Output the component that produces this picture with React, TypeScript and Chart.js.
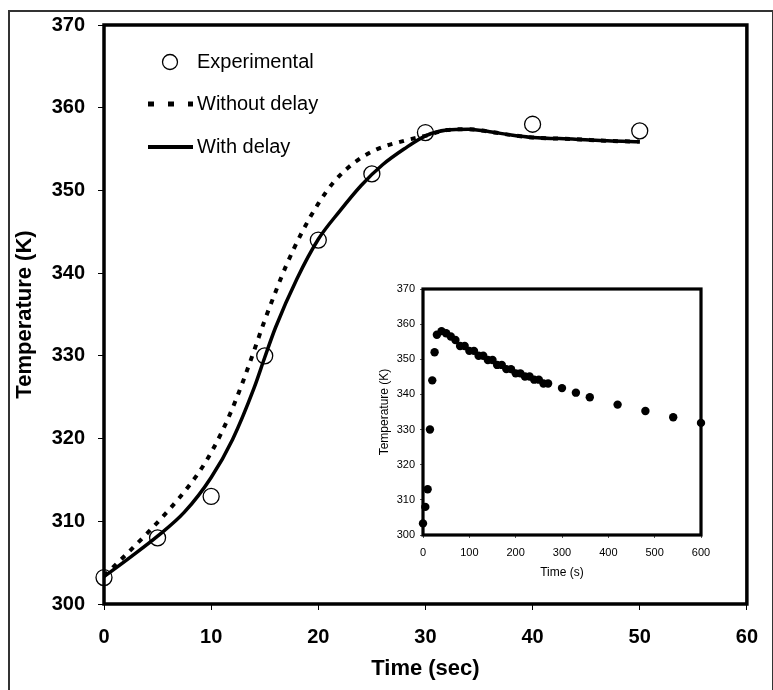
import React, { useEffect, useRef } from "react";
import { Chart, registerables } from "chart.js";

Chart.register(...registerables);

const FONT = '"Liberation Sans", Arial, Helvetica, sans-serif';

// ---- Main chart data ----
const expTime = [0, 5, 10, 15, 20, 25, 30, 40, 50];
const expTemp = [303.2, 308, 313, 330, 344, 352, 357, 358, 357.2];

const noDelayTime = [0, 2, 4, 6, 8, 9.5, 11, 12, 13, 14, 15, 16, 17, 18.5, 20, 21.5, 23.5, 25.5, 28, 30, 32, 34, 36, 38, 40, 44, 47, 50];
const noDelayTemp = [303.4, 305.9, 308.5, 311.3, 314.4, 317.2, 320.8, 323.7, 327.0, 330.6, 334.3, 337.7, 340.9, 345.0, 348.4, 351.1, 353.5, 355.0, 356.0, 356.6, 357.3, 357.4, 357.1, 356.7, 356.4, 356.2, 356.0, 355.9];

const delayTime = [0, 2.5, 5, 7.5, 10, 12, 14, 15, 16, 18, 20, 22, 24, 26, 28, 30, 32, 34, 36, 38, 40, 44, 47, 50];
const delayTemp = [303.3, 305.7, 308.2, 311.1, 315.3, 319.9, 326.1, 329.8, 333.4, 339.3, 344.1, 347.5, 350.6, 353.1, 355.0, 356.6, 357.3, 357.4, 357.1, 356.7, 356.4, 356.2, 356.0, 355.9];

const mainXTicks = [0, 60, 10]; // min, max, step
const mainYTicks = [300, 370, 10];

// ---- Inset data ----
const insetTime = [0, 5, 10, 15, 20, 25, 30, 40, 50, 60, 70, 80, 90, 100, 110, 120, 130, 140, 150, 160, 170, 180, 190, 200, 210, 220, 230, 240, 250, 260, 270, 300, 330, 360, 420, 480, 540, 600];
const insetTemp = [303.3, 308, 313, 330, 344, 352, 357, 358, 357.4, 356.5, 355.5, 353.8, 353.8, 352.4, 352.4, 351, 351, 349.8, 349.8, 348.4, 348.4, 347.2, 347.2, 346, 346, 345.1, 345.1, 344.2, 344.2, 343.1, 343.1, 341.8, 340.5, 339.2, 337.1, 335.3, 333.5, 331.9];

const insetXTicks = [0, 600, 100];
const insetYTicks = [300, 370, 10];

const legendLabels = ["Experimental", "Without delay", "With delay"];

const zip = (xs: number[], ys: number[]) => xs.map((x, i) => ({ x, y: ys[i] }));

const framePlugin = (lw: number) => ({
  id: "frame",
  beforeDatasetsDraw(chart: any) {
    const { ctx, chartArea: a } = chart;
    ctx.save();
    ctx.strokeStyle = "#000";
    ctx.lineWidth = lw;
    ctx.strokeRect(a.left, a.top, a.right - a.left, a.bottom - a.top);
    ctx.restore();
  },
});

const legendPlugin = {
  id: "customLegend",
  afterDraw(chart: any) {
    const ctx = chart.ctx;
    const sx = 148, ex = 193, tx = 197;
    const rows = [62, 104, 147];
    ctx.save();
    ctx.fillStyle = "#000";
    ctx.strokeStyle = "#000";
    ctx.beginPath();
    ctx.lineWidth = 1.3;
    ctx.arc(170, rows[0], 7.5, 0, Math.PI * 2);
    ctx.stroke();
    ctx.beginPath();
    ctx.lineWidth = 5;
    ctx.setLineDash([6, 14]);
    ctx.moveTo(sx, rows[1]);
    ctx.lineTo(ex, rows[1]);
    ctx.stroke();
    ctx.setLineDash([]);
    ctx.beginPath();
    ctx.lineWidth = 4;
    ctx.moveTo(sx, rows[2]);
    ctx.lineTo(ex, rows[2]);
    ctx.stroke();
    ctx.font = `20px ${FONT}`;
    ctx.textBaseline = "middle";
    ctx.textAlign = "left";
    legendLabels.forEach((t, i) => ctx.fillText(t, tx, rows[i]));
    ctx.restore();
  },
};

function MainChart() {
  const ref = useRef<HTMLCanvasElement>(null);
  useEffect(() => {
    const chart = new Chart(ref.current!, {
      type: "line",
      data: {
        datasets: [
          {
            label: legendLabels[1],
            data: zip(noDelayTime, noDelayTemp),
            borderColor: "#000",
            borderWidth: 4,
            borderDash: [5, 7],
            pointRadius: 0,
            cubicInterpolationMode: "monotone",
            fill: false,
          },
          {
            label: legendLabels[2],
            data: zip(delayTime, delayTemp),
            borderColor: "#000",
            borderWidth: 3.5,
            pointRadius: 0,
            cubicInterpolationMode: "monotone",
            fill: false,
          },
          {
            label: legendLabels[0],
            data: zip(expTime, expTemp),
            showLine: false,
            pointRadius: 8,
            pointBorderWidth: 1.3,
            pointBorderColor: "#000",
            pointBackgroundColor: "rgba(0,0,0,0)",
            clip: false,
          } as any,
        ],
      },
      options: {
        responsive: false,
        animation: false,
        events: [],
        layout: { padding: { left: 0, right: 16, top: 25, bottom: 0 } },
        plugins: { legend: { display: false }, tooltip: { enabled: false } },
        scales: {
          x: {
            type: "linear",
            min: mainXTicks[0],
            max: mainXTicks[1],
            ticks: { stepSize: mainXTicks[2], color: "#000", padding: 15, maxRotation: 0, font: { family: FONT, size: 20, weight: "bold" } },
            grid: { drawOnChartArea: false, tickLength: 6, color: "#000", lineWidth: 1 },
            border: { display: false },
            title: { display: true, text: "Time (sec)", color: "#000", font: { family: FONT, size: 22, weight: "bold" }, padding: { top: 0, bottom: 8 } },
            afterFit: (s: any) => { s.height = 86; },
          },
          y: {
            type: "linear",
            min: mainYTicks[0],
            max: mainYTicks[1],
            ticks: { stepSize: mainYTicks[2], color: "#000", padding: 13, font: { family: FONT, size: 20, weight: "bold" } },
            grid: { drawOnChartArea: false, tickLength: 6, color: "#000", lineWidth: 1 },
            border: { display: false },
            title: { display: true, text: "Temperature (K)", color: "#000", font: { family: FONT, size: 22, weight: "bold" }, padding: { top: 12, bottom: 0 } },
            afterFit: (s: any) => { s.width = 104; },
          },
        },
      } as any,
      plugins: [framePlugin(3.5), legendPlugin],
    });
    return () => chart.destroy();
  }, []);
  return (
    <canvas
      ref={ref}
      width={773}
      height={690}
      style={{ position: "fixed", left: 0, top: 0, width: 773, height: 690 }}
    />
  );
}

function InsetChart() {
  const ref = useRef<HTMLCanvasElement>(null);
  useEffect(() => {
    const chart = new Chart(ref.current!, {
      type: "scatter",
      data: {
        datasets: [
          {
            label: "Experimental",
            data: zip(insetTime, insetTemp),
            pointRadius: 4.2,
            pointBorderWidth: 0,
            pointBackgroundColor: "#000",
            clip: false,
          } as any,
        ],
      },
      options: {
        responsive: false,
        animation: false,
        events: [],
        layout: { padding: { left: 0, right: 19, top: 19, bottom: 0 } },
        plugins: { legend: { display: false }, tooltip: { enabled: false } },
        scales: {
          x: {
            type: "linear",
            min: insetXTicks[0],
            max: insetXTicks[1],
            ticks: { stepSize: insetXTicks[2], color: "#000", padding: 8, maxRotation: 0, font: { family: FONT, size: 11 } },
            grid: { drawOnChartArea: false, tickLength: 3, color: "#555", lineWidth: 1 },
            border: { display: false },
            title: { display: true, text: "Time (s)", color: "#000", font: { family: FONT, size: 12 }, padding: { top: 0, bottom: 10 } },
            afterFit: (s: any) => { s.height = 55; },
          },
          y: {
            type: "linear",
            min: insetYTicks[0],
            max: insetYTicks[1],
            ticks: { stepSize: insetYTicks[2], color: "#000", padding: 5, font: { family: FONT, size: 11 } },
            grid: { drawOnChartArea: false, tickLength: 3, color: "#555", lineWidth: 1 },
            border: { display: false },
            title: { display: true, text: "Temperature (K)", color: "#000", font: { family: FONT, size: 12 }, padding: { top: 17, bottom: 0 } },
            afterFit: (s: any) => { s.width = 63; },
          },
        },
      } as any,
      plugins: [framePlugin(3.2)],
    });
    return () => chart.destroy();
  }, []);
  return (
    <canvas
      ref={ref}
      width={360}
      height={320}
      style={{ position: "fixed", left: 360, top: 270, width: 360, height: 320 }}
    />
  );
}

export default function App() {
  return (
    <div>
      <div
        style={{
          position: "fixed",
          left: 8,
          top: 10,
          width: 762,
          height: 690,
          borderLeft: "2px solid #333",
          borderTop: "2px solid #333",
          borderRight: "2px solid #333",
          boxSizing: "content-box",
        }}
      />
      <MainChart />
      <InsetChart />
    </div>
  );
}
